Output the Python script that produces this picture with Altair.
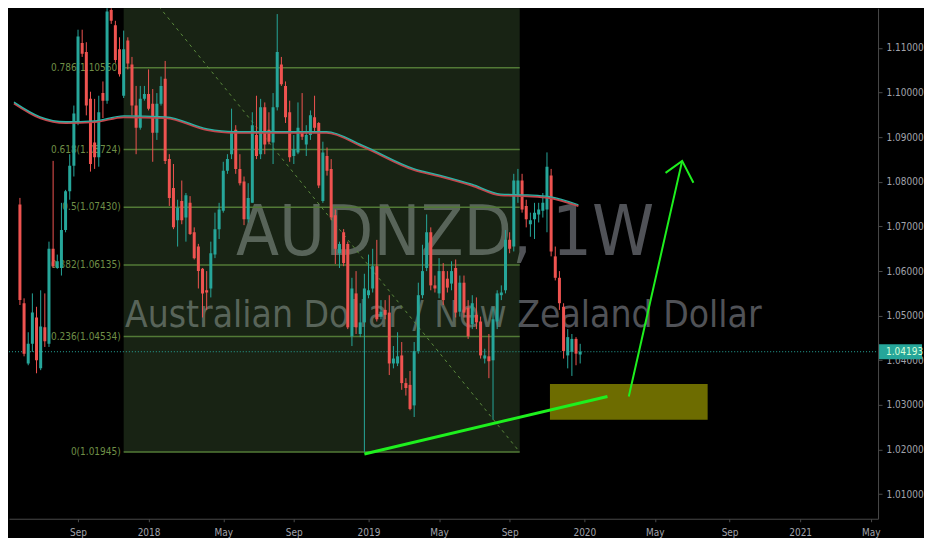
import altair as alt
import pandas as pd

# ---------------- data ----------------
last_week = "2019-12-30"
opens = [1.0749, 1.0528, 1.0393, 1.0437, 1.0496, 1.0382, 1.0474, 1.0437, 1.0650, 1.0607,
         1.0607, 1.0692, 1.0779, 1.0836, 1.0934, 1.1111, 1.1091, 1.0986, 1.0888, 1.0855,
         1.0999, 1.0982, 1.1185, 1.1151, 1.1097, 1.0993, 1.1117, 1.1063, 1.0971, 1.0921,
         1.0986, 1.0997, 1.0975, 1.0910, 1.0975, 1.1031, 1.0851, 1.0786, 1.0714, 1.0757,
         1.0720, 1.0753, 1.0687, 1.0655, 1.0605, 1.0557, 1.0561, 1.0637, 1.0694, 1.0735,
         1.0825, 1.0862, 1.0917, 1.0829, 1.0801, 1.0716, 1.0753, 1.0905, 1.0862, 1.0967,
         1.0917, 1.0888, 1.0967, 1.1063, 1.1015, 1.0956, 1.0858, 1.0866, 1.0912, 1.0884,
         1.0905, 1.0945, 1.0932, 1.0757, 1.0858, 1.0829, 1.0725, 1.0640, 1.0687, 1.0661,
         1.0454, 1.0550, 1.0459, 1.0485, 1.0546, 1.0561, 1.0611, 1.0498, 1.0513, 1.0507,
         1.0393, 1.0393, 1.0411, 1.0349, 1.0345, 1.0299, 1.0421, 1.0546, 1.0607, 1.0687,
         1.0568, 1.0550, 1.0600, 1.0583, 1.0572, 1.0607, 1.0509, 1.0574, 1.0518, 1.0481,
         1.0502, 1.0487, 1.0404, 1.0409, 1.0400, 1.0487, 1.0546, 1.0557, 1.0670, 1.0655,
         1.0768, 1.0803, 1.0746, 1.0705, 1.0716, 1.0727, 1.0735, 1.0738, 1.0814, 1.0633,
         1.0585, 1.0520, 1.0411, 1.0419, 1.0448, 1.0413]
highs = [1.0764, 1.0539, 1.0463, 1.0550, 1.0520, 1.0557, 1.0550, 1.0666, 1.0847, 1.0637,
         1.0753, 1.0782, 1.0862, 1.0971, 1.1141, 1.1141, 1.1113, 1.1002, 1.0986, 1.0993,
         1.1025, 1.1211, 1.1200, 1.1161, 1.1124, 1.1139, 1.1124, 1.1080, 1.1015, 1.1015,
         1.1015, 1.1052, 1.1008, 1.0999, 1.1036, 1.1071, 1.0862, 1.0840, 1.0760, 1.0803,
         1.0775, 1.0768, 1.0698, 1.0661, 1.0607, 1.0600, 1.0666, 1.0731, 1.0753, 1.0845,
         1.0862, 1.0964, 1.0927, 1.0862, 1.0812, 1.0797, 1.0956, 1.0993, 1.0986, 1.0978,
         1.0956, 1.0999, 1.1176, 1.1080, 1.1025, 1.0982, 1.0905, 1.0978, 1.0999, 1.0927,
         1.0960, 1.0993, 1.0934, 1.0890, 1.0877, 1.0851, 1.0738, 1.0666, 1.0694, 1.0666,
         1.0585, 1.0600, 1.0528, 1.0594, 1.0637, 1.0650, 1.0670, 1.0535, 1.0535, 1.0546,
         1.0432, 1.0463, 1.0441, 1.0360, 1.0376, 1.0441, 1.0574, 1.0659, 1.0727, 1.0698,
         1.0590, 1.0629, 1.0618, 1.0600, 1.0622, 1.0626, 1.0590, 1.0590, 1.0535, 1.0546,
         1.0541, 1.0498, 1.0426, 1.0459, 1.0520, 1.0557, 1.0568, 1.0692, 1.0687, 1.0818,
         1.0829, 1.0818, 1.0760, 1.0731, 1.0753, 1.0753, 1.0775, 1.0866, 1.0829, 1.0655,
         1.0600, 1.0528, 1.0470, 1.0459, 1.0452, 1.0437]
lows = [1.0524, 1.0409, 1.0389, 1.0419, 1.0371, 1.0378, 1.0430, 1.0430, 1.0607, 1.0605,
        1.0590, 1.0687, 1.0760, 1.0812, 1.0927, 1.1080, 1.0949, 1.0823, 1.0829, 1.0834,
        1.0943, 1.0975, 1.1154, 1.1067, 1.1036, 1.0988, 1.1052, 1.0949, 1.0862, 1.0917,
        1.0982, 1.0960, 1.0845, 1.0894, 1.0971, 1.0840, 1.0746, 1.0694, 1.0655, 1.0705,
        1.0666, 1.0681, 1.0626, 1.0561, 1.0496, 1.0513, 1.0541, 1.0629, 1.0672, 1.0731,
        1.0818, 1.0851, 1.0818, 1.0792, 1.0703, 1.0709, 1.0753, 1.0851, 1.0851, 1.0862,
        1.0884, 1.0840, 1.0960, 1.1015, 1.0932, 1.0845, 1.0840, 1.0862, 1.0894, 1.0858,
        1.0894, 1.0910, 1.0786, 1.0753, 1.0814, 1.0714, 1.0616, 1.0607, 1.0611, 1.0470,
        1.0432, 1.0459, 1.0452, 1.0195, 1.0539, 1.0552, 1.0487, 1.0492, 1.0492, 1.0367,
        1.0382, 1.0387, 1.0334, 1.0321, 1.0288, 1.0273, 1.0415, 1.0539, 1.0600, 1.0557,
        1.0552, 1.0539, 1.0524, 1.0552, 1.0557, 1.0496, 1.0498, 1.0496, 1.0448, 1.0470,
        1.0470, 1.0404, 1.0393, 1.0360, 1.0267, 1.0470, 1.0535, 1.0550, 1.0640, 1.0644,
        1.0753, 1.0731, 1.0698, 1.0677, 1.0672, 1.0709, 1.0720, 1.0687, 1.0633, 1.0579,
        1.0513, 1.0404, 1.0382, 1.0365, 1.0389, 1.0393]
closes = [1.0535, 1.0415, 1.0437, 1.0507, 1.0400, 1.0476, 1.0443, 1.0650, 1.0611, 1.0622,
          1.0692, 1.0779, 1.0836, 1.0953, 1.1126, 1.1087, 1.0971, 1.0840, 1.0855, 1.0956,
          1.0982, 1.1182, 1.1161, 1.1073, 1.1041, 1.1097, 1.1065, 1.0971, 1.0921, 1.0986,
          1.0997, 1.0964, 1.0910, 1.0975, 1.1015, 1.0847, 1.0764, 1.0698, 1.0742, 1.0714,
          1.0770, 1.0683, 1.0629, 1.0600, 1.0550, 1.0552, 1.0640, 1.0694, 1.0738, 1.0825,
          1.0851, 1.0912, 1.0829, 1.0797, 1.0716, 1.0764, 1.0927, 1.0858, 1.0967, 1.0884,
          1.0890, 1.0967, 1.1091, 1.1019, 1.0945, 1.0855, 1.0873, 1.0921, 1.0901, 1.0905,
          1.0949, 1.0921, 1.0792, 1.0866, 1.0825, 1.0720, 1.0650, 1.0661, 1.0618, 1.0474,
          1.0561, 1.0474, 1.0485, 1.0561, 1.0557, 1.0611, 1.0492, 1.0509, 1.0502, 1.0393,
          1.0404, 1.0409, 1.0349, 1.0338, 1.0291, 1.0421, 1.0546, 1.0600, 1.0687, 1.0568,
          1.0561, 1.0600, 1.0535, 1.0563, 1.0600, 1.0507, 1.0574, 1.0507, 1.0454, 1.0528,
          1.0485, 1.0411, 1.0411, 1.0398, 1.0492, 1.0550, 1.0552, 1.0670, 1.0650, 1.0803,
          1.0803, 1.0738, 1.0716, 1.0714, 1.0731, 1.0738, 1.0753, 1.0834, 1.0644, 1.0585,
          1.0528, 1.0421, 1.0452, 1.0448, 1.0415, 1.04193]

ma_dates = ["2017-05-19", "2017-07-02", "2017-08-14", "2017-10-02", "2017-11-20", "2018-01-30",
            "2018-04-10", "2018-05-24", "2018-07-17", "2018-09-21", "2018-10-28", "2018-12-28",
            "2019-03-24", "2019-05-08", "2019-06-30", "2019-08-18", "2019-10-02", "2019-11-08",
            "2019-12-27"]
ma_values = [1.0976, 1.0943, 1.0932, 1.0934, 1.0945, 1.0943, 1.0916, 1.0910, 1.0910, 1.0910,
             1.0910, 1.0879, 1.0827, 1.0812, 1.0792, 1.0770, 1.0768, 1.0764, 1.0746]

fib_ratios = ["0", "0.236", "0.382", "0.5", "0.618", "0.786"]
fib_prices = [1.01945, 1.04534, 1.06135, 1.07430, 1.08724, 1.10560]
fib_top = 1.12905
fib_span = ["2017-11-20", "2019-09-19"]

zone_span = ["2019-11-09", "2020-08-01"]
zone_prices = [1.0267, 1.0347]

support_dates = ["2018-12-31", "2020-02-14"]
support_prices = [1.0190, 1.0319]
arrow_dates = ["2020-03-21", "2020-06-19"]
arrow_prices = [1.0319, 1.0847]
head_dates = ["2020-05-22", "2020-06-19", "2020-07-08"]
head_prices = [1.0820, 1.0847, 1.0798]

last_price = 1.04193
price_ticks = [1.01, 1.02, 1.03, 1.04, 1.05, 1.06, 1.07, 1.08, 1.09, 1.10, 1.11]
date_ticks = [(2017, 9, 4), (2018, 1, 1), (2018, 5, 7), (2018, 9, 3), (2019, 1, 7), (2019, 5, 6),
              (2019, 9, 2), (2020, 1, 6), (2020, 5, 4), (2020, 9, 7), (2021, 1, 4), (2021, 5, 3)]

# ---------------- styling ----------------
FONT = "Liberation Sans Narrow, DejaVu Sans Condensed, Roboto Condensed, Liberation Sans, sans-serif"
UP, DOWN = "#26a69a", "#ef5350"
FIB_LINE, FIB_TEXT = "#527a36", "#6f8f47"
BRIGHT = "#1ef01e"
AXIS_GREY = "#4a4a4a"
LABEL_GREY = "#a0a3ab"
W, H = 870, 511

xscale = alt.Scale(domain=[alt.DateTime(year=2017, month=5, date=19),
                           alt.DateTime(year=2021, month=5, date=7)])
yscale = alt.Scale(domain=[1.0045, 1.1189], nice=False, zero=False)

xaxis = alt.Axis(values=[alt.DateTime(year=y, month=m, date=d) for y, m, d in date_ticks],
                 labelExpr="month(datum.value) == 0 ? timeFormat(datum.value, '%Y') : timeFormat(datum.value, '%b')",
                 title=None, grid=False, domainColor=AXIS_GREY, tickColor=AXIS_GREY, tickSize=3,
                 labelColor=LABEL_GREY, labelFont=FONT, labelFontSize=10, labelPadding=6,
                 labelFlush=False, labelOverlap=False)
yaxis = alt.Axis(orient="right", values=price_ticks, format=".5f", title=None, grid=False,
                 domainColor=AXIS_GREY, tickColor=AXIS_GREY, tickSize=4, labelColor=LABEL_GREY,
                 labelFont=FONT, labelFontSize=10, labelPadding=4, labelOverlap=False)


def X(field="date"):
    return alt.X(f"{field}:T", scale=xscale, axis=xaxis)


def Y(field="price"):
    return alt.Y(f"{field}:Q", scale=yscale, axis=yaxis)


# ---------------- frames ----------------
candles = pd.DataFrame({
    "date": pd.date_range(end=last_week, periods=len(opens), freq="W-MON"),
    "open": opens, "high": highs, "low": lows, "close": closes,
})
candles["dir"] = ["up" if c >= o else "down" for o, c in zip(opens, closes)]

ma = pd.DataFrame({"date": pd.to_datetime(ma_dates), "price": ma_values})
fib = pd.DataFrame({
    "start": pd.to_datetime([fib_span[0]] * len(fib_prices)),
    "end": pd.to_datetime([fib_span[1]] * len(fib_prices)),
    "price": fib_prices,
    "label": [f"{r}({p:.5f})" for r, p in zip(fib_ratios, fib_prices)],
})
fib_box = pd.DataFrame({"start": pd.to_datetime([fib_span[0]]), "end": pd.to_datetime([fib_span[1]]),
                        "low": [fib_prices[0]], "high": [fib_top]})
trend = pd.DataFrame({"date": pd.to_datetime(fib_span), "price": [fib_top, fib_prices[0]]})
zone = pd.DataFrame({"start": pd.to_datetime([zone_span[0]]), "end": pd.to_datetime([zone_span[1]]),
                     "low": [zone_prices[0]], "high": [zone_prices[1]]})
support = pd.DataFrame({"date": pd.to_datetime(support_dates), "price": support_prices})
arrow = pd.DataFrame({"date": pd.to_datetime(arrow_dates), "price": arrow_prices})
head = pd.DataFrame({"date": pd.to_datetime(head_dates), "price": head_prices, "k": [0, 1, 2]})
wm = pd.DataFrame({"date": pd.to_datetime(["2019-05-16", "2019-05-13"]),
                   "price": [1.0637, 1.0474],
                   "label": ["AUDNZD, 1W", "Australian Dollar / New Zealand Dollar"]})

# ---------------- layers ----------------
wm_title = alt.Chart(wm.iloc[[0]]).mark_text(font=FONT, fontSize=70, color="#505257",
                                             align="center", baseline="alphabetic").encode(
    x=X(), y=Y(), text="label:N")
wm_sub = alt.Chart(wm.iloc[[1]]).mark_text(font=FONT, fontSize=37, color="#505257",
                                           align="center", baseline="alphabetic").encode(
    x=X(), y=Y(), text="label:N")

fib_fill = alt.Chart(fib_box).mark_rect(color="#7aaf64", opacity=0.2, clip=True).encode(
    x=X("start"), x2="end:T", y=Y("low"), y2="high:Q")
fib_lines = alt.Chart(fib).mark_rule(color=FIB_LINE, strokeWidth=1.5).encode(
    x=X("start"), x2="end:T", y=Y())
fib_labels = alt.Chart(fib).mark_text(font=FONT, fontSize=10, color=FIB_TEXT, align="right",
                                      baseline="middle", dx=-3).encode(
    x=X("start"), y=Y(), text="label:N")
trend_line = alt.Chart(trend).mark_line(color="#5a8a3c", strokeWidth=1, strokeDash=[3, 4],
                                        clip=True).encode(x=X(), y=Y())

zone_rect = alt.Chart(zone).mark_rect(color="#6d6c00").encode(
    x=X("start"), x2="end:T", y=Y("low"), y2="high:Q")

price_line = alt.Chart(candles.tail(1)).mark_rule(color=UP, strokeWidth=1, strokeDash=[1, 2]).encode(
    x=alt.value(0), x2=alt.value(W), y=Y("close"))

cscale = alt.Scale(domain=["up", "down"], range=[UP, DOWN])
wicks = alt.Chart(candles).mark_rule(strokeWidth=1, clip=True).encode(
    x=X("date"), y=Y("low"), y2="high:Q",
    color=alt.Color("dir:N", scale=cscale, legend=None))
bodies = alt.Chart(candles).mark_bar(size=3, clip=True).encode(
    x=X("date"), y=Y("open"), y2="close:Q",
    color=alt.Color("dir:N", scale=cscale, legend=None))

ma_red = alt.Chart(ma).mark_line(color="#c4464c", strokeWidth=2, interpolate="monotone").encode(
    x=X(), y=Y())
ma_teal = alt.Chart(ma).mark_line(color="#2bb3a6", strokeWidth=1.3, interpolate="monotone",
                                  yOffset=-1.2).encode(x=X(), y=Y())

support_line = alt.Chart(support).mark_line(color=BRIGHT, strokeWidth=3).encode(x=X(), y=Y())
arrow_line = alt.Chart(arrow).mark_line(color=BRIGHT, strokeWidth=2).encode(x=X(), y=Y())
head_line = alt.Chart(head).mark_line(color=BRIGHT, strokeWidth=2).encode(
    x=X(), y=Y(), order="k:Q")

tag_rect = alt.Chart(candles.tail(1)).mark_rect(color=UP).encode(
    x=alt.value(W + 1), x2=alt.value(W + 44),
    y=alt.datum(last_price + 0.0017), y2=alt.datum(last_price - 0.0017))
tag_text = alt.Chart(candles.tail(1)).mark_text(font=FONT, fontSize=10, color="#d8ffd8",
                                                align="left", baseline="middle").encode(
    x=alt.value(W + 8), y=Y("close"), text=alt.Text("close:Q", format=".5f"))

chart = alt.layer(
    wm_title, wm_sub, fib_fill, fib_lines, fib_labels, trend_line, zone_rect, price_line,
    wicks, bodies, ma_red, ma_teal, support_line, arrow_line, head_line, tag_rect, tag_text,
).properties(
    width=W, height=H, background="#000000", padding=0,
).configure_view(stroke=None)

chart.save("out.html", embed_options={"renderer": "svg", "actions": False})
